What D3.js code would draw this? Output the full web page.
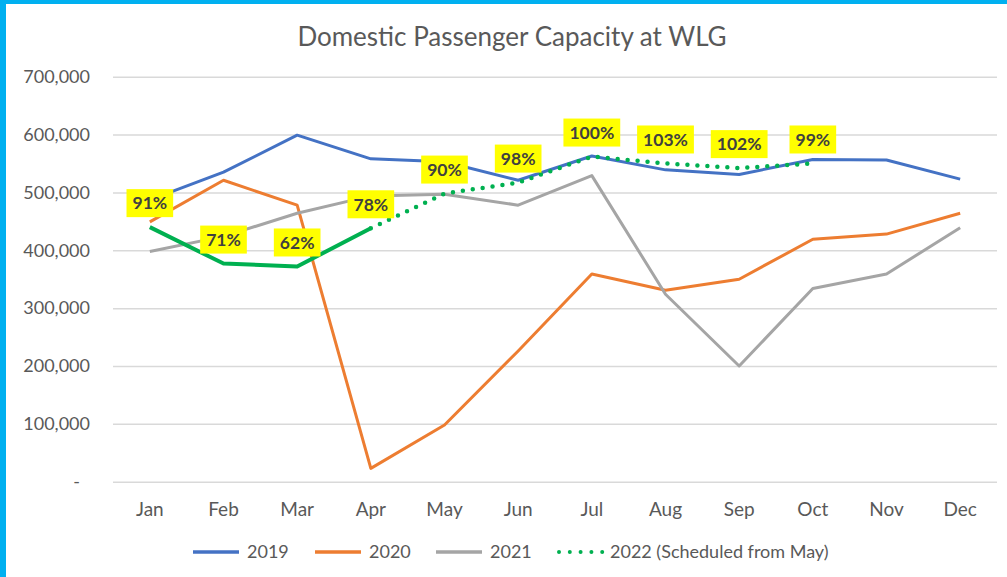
<!DOCTYPE html>
<html>
<head>
<meta charset="utf-8">
<script src="https://cdn.jsdelivr.net/npm/d3@7"></script>
<style>
  body { margin: 0; background: #fff; }
  text { font-family: Lato, "Liberation Sans", sans-serif; }
</style>
</head>
<body>
<div id="chart"></div>
<script>
// Chart data
var months = ["Jan","Feb","Mar","Apr","May","Jun","Jul","Aug","Sep","Oct","Nov","Dec"];
var cap2019 = [487000, 535000, 599000, 558000, 553000, 521000, 563000, 539000, 531000, 557000, 556000, 523000];
var cap2020 = [449000, 521000, 478000, 23000, 98000, 226000, 359000, 331000, 350000, 419000, 428000, 464000];
var cap2021 = [398000, 424000, 464000, 494000, 497000, 478000, 529000, 324000, 200000, 334000, 359000, 439000];
// 2022 actual (Jan-Apr) and scheduled (Apr-Oct)
var cap2022 = [440000, 377000, 372000, 438000, null, null, null, null, null, null, null, null];
var sched2022 = [null, null, null, 438000, 498000, 517000, 562000, 550000, 542000, 550000, null, null];
var pctLabels = ["91%","71%","62%","78%","90%","98%","100%","103%","102%","99%"];
var yTicks = [0, 100000, 200000, 300000, 400000, 500000, 600000, 700000];

var legendItems = [
  {name: "2019", color: "#4472c4"},
  {name: "2020", color: "#ed7d31"},
  {name: "2021", color: "#a5a5a5"},
  {name: "2022 (Scheduled from May)", color: "#00b050", dotted: true}
];

var svgWidth = 1007, svgHeight = 577;

var svg = d3.select("#chart").append("svg")
  .attr("width", svgWidth)
  .attr("height", svgHeight);

svg.append("rect").attr("width", svgWidth).attr("height", svgHeight).attr("fill", "#fff");
// cyan frame on top and left
svg.append("rect").attr("x", 0).attr("y", 0).attr("width", svgWidth).attr("height", 4).attr("fill", "#00b0f0");
svg.append("rect").attr("x", 0).attr("y", 0).attr("width", 6).attr("height", svgHeight).attr("fill", "#00b0f0");

var xScale = d3.scaleBand().domain(months).range([113, 997]).padding(0);
var yScale = d3.scaleLinear().domain([0, 700000]).range([481.7, 76.7]);
var xc = function(m) { return xScale(m) + xScale.bandwidth() / 2; };

// Title
svg.append("text")
  .attr("x", 512).attr("y", 46)
  .attr("text-anchor", "middle")
  .attr("font-size", 26)
  .attr("fill", "#595959")
  .text("Domestic Passenger Capacity at WLG");

// y axis with gridlines
var leftAxis = d3.axisLeft(yScale)
  .tickValues(yTicks)
  .tickSize(-(997 - 113))
  .tickPadding(23)
  .tickFormat(function(d) { return d === 0 ? "-" : d3.format(",")(d); });

var yG = svg.append("g").attr("transform", "translate(113,0)").call(leftAxis);
yG.select(".domain").remove();
yG.selectAll(".tick line").attr("stroke", "#d9d9d9").attr("stroke-width", 1.5);
yG.selectAll(".tick text")
  .attr("font-size", 18)
  .attr("fill", "#595959")
  .attr("font-family", "Lato, sans-serif");
yG.selectAll(".tick text").filter(function(d) { return d === 0; }).attr("x", -33);

// x axis
var bottomAxis = d3.axisBottom(xScale).tickSize(0).tickPadding(21);
var xG = svg.append("g").attr("transform", "translate(0,481.7)").call(bottomAxis);
xG.select(".domain").remove();
xG.selectAll(".tick text")
  .attr("font-size", 19)
  .attr("fill", "#595959")
  .attr("font-family", "Lato, sans-serif");

// lines
function makeLine(vals) {
  return d3.line()
    .defined(function(d) { return d != null; })
    .x(function(d, i) { return xc(months[i]); })
    .y(function(d) { return yScale(d); })(vals);
}

svg.append("path").attr("d", makeLine(cap2019)).attr("fill", "none")
  .attr("stroke", "#4472c4").attr("stroke-width", 3).attr("stroke-linejoin", "round");
svg.append("path").attr("d", makeLine(cap2020)).attr("fill", "none")
  .attr("stroke", "#ed7d31").attr("stroke-width", 3).attr("stroke-linejoin", "round");
svg.append("path").attr("d", makeLine(cap2021)).attr("fill", "none")
  .attr("stroke", "#a5a5a5").attr("stroke-width", 3).attr("stroke-linejoin", "round");
svg.append("path").attr("d", makeLine(cap2022)).attr("fill", "none")
  .attr("stroke", "#00b050").attr("stroke-width", 4).attr("stroke-linejoin", "round");
svg.append("path").attr("d", makeLine(sched2022)).attr("fill", "none")
  .attr("stroke", "#00b050").attr("stroke-width", 4.5)
  .attr("stroke-linecap", "round").attr("stroke-dasharray", "0 10");

// percentage labels on 2022
var pctData = pctLabels.map(function(t, i) {
  var v = cap2022[i] != null ? cap2022[i] : sched2022[i];
  return {label: t, x: xc(months[i]), y: yScale(v) - 24};
});

var labG = svg.append("g").selectAll("g").data(pctData).enter().append("g")
  .attr("transform", function(d) { return "translate(" + d.x + "," + d.y + ")"; });
labG.append("rect").attr("fill", "#ffff00").attr("y", -14).attr("height", 28);
labG.append("text")
  .attr("text-anchor", "middle")
  .attr("dy", "0.36em")
  .attr("font-size", 17.5)
  .attr("font-weight", "bold")
  .attr("fill", "#404040")
  .text(function(d) { return d.label; });
labG.each(function() {
  var g = d3.select(this);
  var w = g.select("text").node().getComputedTextLength() + 12;
  g.select("rect").attr("x", -w / 2).attr("width", w);
});

// legend
var legendX = [193, 315, 436, 557];
var legG = svg.append("g").selectAll("g").data(legendItems).enter().append("g")
  .attr("transform", function(d, i) { return "translate(" + legendX[i] + ",552)"; });
legG.append("line")
  .attr("x1", function(d) { return d.dotted ? 2 : 0; })
  .attr("x2", 46)
  .attr("stroke", function(d) { return d.color; })
  .attr("stroke-width", function(d) { return d.dotted ? 4 : 3.5; })
  .attr("stroke-linecap", function(d) { return d.dotted ? "round" : "butt"; })
  .attr("stroke-dasharray", function(d) { return d.dotted ? "0 10.8" : null; });
legG.append("text")
  .attr("x", function(d) { return d.dotted ? 53 : 54; })
  .attr("dy", "0.35em")
  .attr("font-size", 18)
  .attr("fill", "#595959")
  .text(function(d) { return d.name; });
</script>
</body>
</html>
